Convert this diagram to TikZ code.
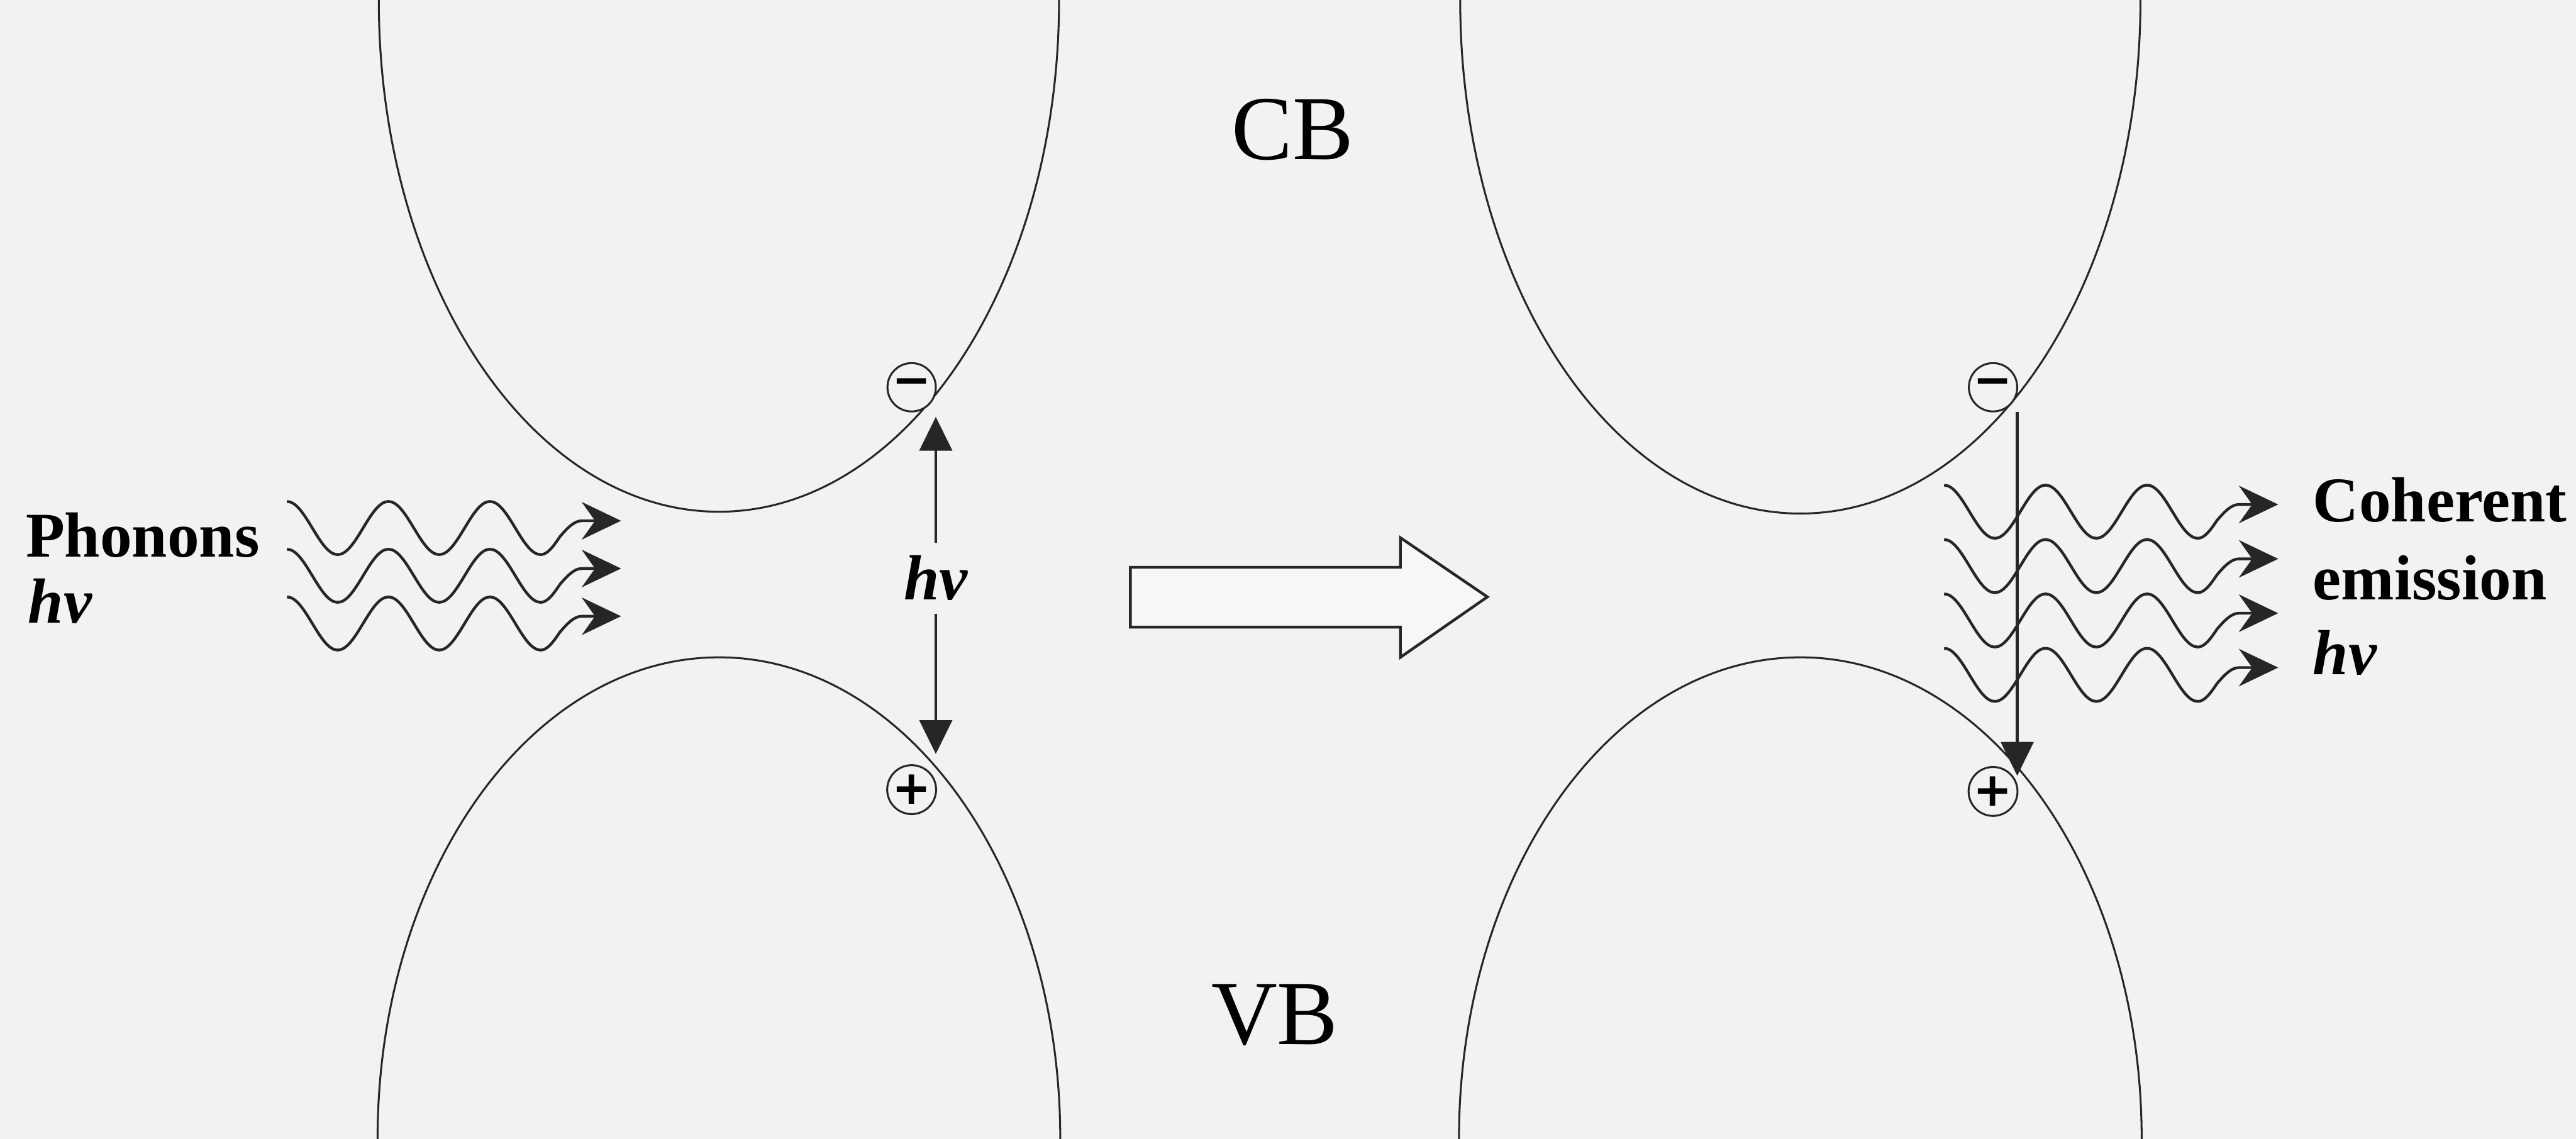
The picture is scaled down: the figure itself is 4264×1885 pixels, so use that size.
\documentclass[tikz,border=0pt]{standalone}
\usepackage{fontspec}
\setmainfont{Liberation Serif}
\newfontfamily\signfont{DejaVu Sans}
\usetikzlibrary{arrows.meta}

\begin{document}
\begin{tikzpicture}[x=0.01cm,y=0.01cm]
  \tikzset{
    band/.style={draw=black!85,line width=0.9pt},
    charge/.style={draw=black!85,circle,line width=0.9pt,fill=black!5,
      minimum size=0.8cm,inner sep=0pt,font=\signfont\bfseries\fontsize{22}{22}\selectfont},
    wavy/.style={draw=black!85,line width=1.3pt,
      -{Stealth[length=0.65cm,width=0.62cm,inset=0.22cm]}},
    vert/.style={draw=black!85,line width=1.3pt,
      -{Triangle[length=0.56cm,width=0.54cm]}},
    block/.style={draw=black!85,line width=1.3pt,fill=black!3,line join=miter},
    bandname/.style={font=\fontsize{43}{48}\selectfont},
    lab/.style={font=\fontsize{30}{36}\selectfont\bfseries,inner sep=0pt},
    photon/.style={font=\fontsize{30}{36}\selectfont\bfseries\itshape,inner sep=0pt},
    phonon/.pic={
      \draw[wavy] (0,0) cos (42,-44) sin (84,-88) cos (126,-44) sin (168,0)
        cos (210,-44) sin (252,-88) cos (294,-44) sin (336,0)
        cos (378,-44) sin (420,-88) cos (452,-58) sin (488,-32) -- (553,-32);
    }
  }
  \useasboundingbox (0,0) rectangle (4264,-1885);
  \fill[black!5] (0,0) rectangle (4264,-1885);

  % bands before and after
  \draw[band] (627,0) arc[start angle=180,end angle=360,x radius=563,y radius=847];
  \draw[band] (625,-1885) arc[start angle=180,end angle=0,x radius=565,y radius=797];
  \draw[band] (2417,0) arc[start angle=180,end angle=360,x radius=563,y radius=850];
  \draw[band] (2415,-1885) arc[start angle=180,end angle=0,x radius=565,y radius=797];
  \node[bandname] (cb) at (2140,-215) {CB};
  \node[bandname] (vb) at (2110,-1680) {VB};

  % left: absorption
  \node[charge] (minusL) at (1509,-641) {−};
  \node[charge] (plusL) at (1509,-1307) {+};
  \node[photon,inner sep=6pt] (hvL) at (1549,-957) {hν};
  \coordinate (topL) at (1549,-690);
  \coordinate (botL) at (1549,-1248);
  \draw[vert] (hvL) -- (topL);
  \draw[vert] (hvL) -- (botL);
  \foreach \y in {830,909,988}
    \pic at (475,-\y) {phonon};
  \node[lab,anchor=base west] (phon) at (42,-922) {Phonons};
  \node[photon,anchor=base west] (hvin) at (46,-1031) {hν};

  % step arrow
  \draw[block] (1871,-939) -- (2318,-939) -- (2318,-890) -- (2462,-988)
    -- (2318,-1088) -- (2318,-1038) -- (1871,-1038) -- cycle;

  % right: coherent emission
  \node[charge] (minusR) at (3299,-641) {−};
  \node[charge] (plusR) at (3299,-1310) {+};
  \coordinate (topR) at (3339,-682);
  \coordinate (botR) at (3339,-1284);
  \foreach \y in {803,893,983,1073}
    \pic at (3218,-\y) {phonon};
  \draw[vert] (topR) -- (botR);
  \node[lab,anchor=base west] (coh) at (3828,-863) {Coherent};
  \node[lab,anchor=base west] (emi) at (3828,-993) {emission};
  \node[photon,anchor=base west] (hvout) at (3828,-1116) {hν};
\end{tikzpicture}
\end{document}
